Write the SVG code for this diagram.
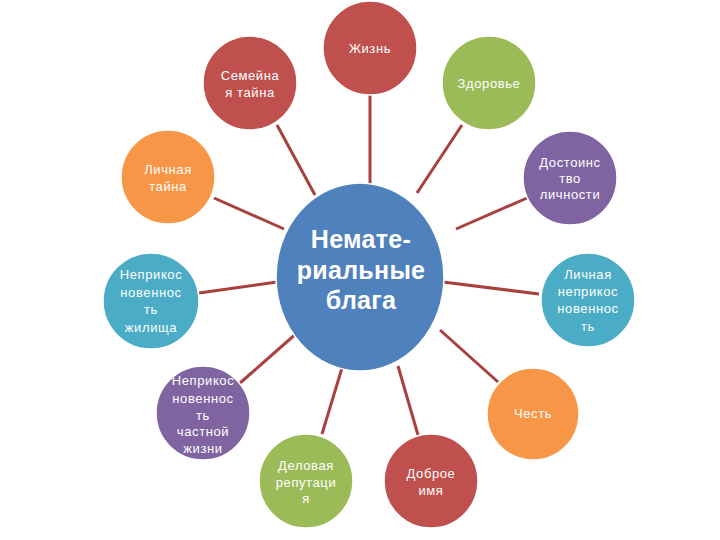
<svg xmlns="http://www.w3.org/2000/svg" width="720" height="540" viewBox="0 0 720 540">
<style>
.c{stroke:#ffffff;stroke-width:1.5}
.red{fill:#C0504D}.green{fill:#9BBB59}.orange{fill:#F79646}.teal{fill:#4BACC6}.purple{fill:#8064A2}.blue{fill:#4F81BD}
text{font-family:"Liberation Sans","DejaVu Sans",sans-serif;font-size:13px;letter-spacing:0.6px;fill:#ffffff;text-anchor:middle}
.big{font-size:25px;font-weight:bold;letter-spacing:0.3px}
#links line{stroke:#A8413E;stroke-width:3}
</style>
<rect width="720" height="540" fill="#ffffff"/>
<g id="links">
<line x1="370" y1="94" x2="370" y2="184"/>
<line x1="277" y1="125" x2="315" y2="195"/>
<line x1="462" y1="125" x2="417" y2="193"/>
<line x1="214" y1="198" x2="284" y2="229"/>
<line x1="199" y1="293" x2="277" y2="282"/>
<line x1="527" y1="198" x2="456" y2="229"/>
<line x1="443" y1="282" x2="539" y2="294"/>
<line x1="440" y1="330" x2="498" y2="382"/>
<line x1="398" y1="366" x2="418" y2="435"/>
<line x1="342" y1="368" x2="322" y2="434"/>
<line x1="298" y1="332" x2="240" y2="383"/>
</g>
<g id="center">
<ellipse class="c blue" cx="360" cy="277" rx="84" ry="94"/>
<text class="big" x="361" y="248">Немате-</text>
<text class="big" x="361" y="279">риальные</text>
<text class="big" x="361" y="309">блага</text>
</g>
<g id="zhizn"><circle class="c red" cx="370" cy="48" r="47"/><text x="370" y="53">Жизнь</text></g>
<g id="semeinaya"><circle class="c red" cx="250" cy="83" r="47"/><text x="250" y="80">Семейна</text><text x="250" y="97">я тайна</text></g>
<g id="zdorovie"><circle class="c green" cx="489" cy="83" r="47"/><text x="489" y="88">Здоровье</text></g>
<g id="lichnaya-taina"><circle class="c orange" cx="168" cy="177" r="47"/><text x="168" y="174">Личная</text><text x="168" y="191">тайна</text></g>
<g id="dostoinstvo"><circle class="c purple" cx="570" cy="178" r="47"/><text x="570" y="167">Достоинс</text><text x="570" y="183">тво</text><text x="570" y="199">личности</text></g>
<g id="zhilishcha"><circle class="c teal" cx="151" cy="301" r="48"/><text x="151" y="279">Неприкос</text><text x="151" y="297">новеннос</text><text x="151" y="314">ть</text><text x="151" y="332">жилища</text></g>
<g id="lichnaya-neprik"><circle class="c teal" cx="588" cy="300" r="47"/><text x="588" y="279">Личная</text><text x="588" y="296">неприкос</text><text x="588" y="313">новеннос</text><text x="588" y="331">ть</text></g>
<g id="chastnoy"><circle class="c purple" cx="203" cy="413" r="47"/><text x="203" y="385">Неприкос</text><text x="203" y="403">новеннос</text><text x="203" y="420">ть</text><text x="203" y="436">частной</text><text x="203" y="453">жизни</text></g>
<g id="delovaya"><circle class="c green" cx="306" cy="481" r="47"/><text x="306" y="470">Деловая</text><text x="306" y="487">репутаци</text><text x="306" y="503">я</text></g>
<g id="dobroe"><circle class="c red" cx="431" cy="481" r="47"/><text x="431" y="478">Доброе</text><text x="431" y="495">имя</text></g>
<g id="chest"><circle class="c orange" cx="533" cy="414" r="46"/><text x="533" y="418">Честь</text></g>
</svg>
